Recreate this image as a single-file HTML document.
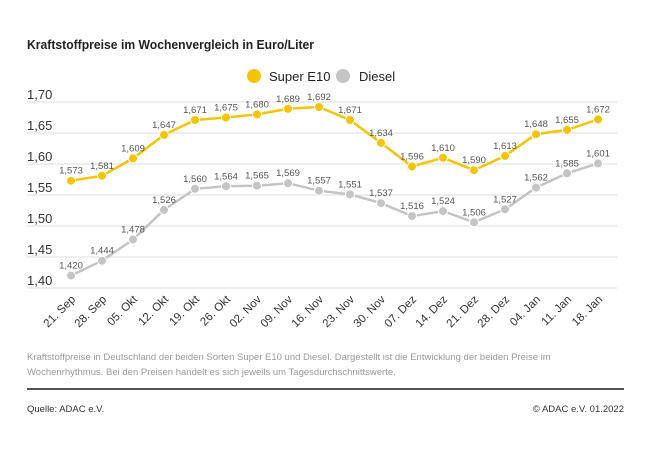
<!DOCTYPE html>
<html><head><meta charset="utf-8"><style>
body{margin:0;background:#fff;}
svg text{font-family:"Liberation Sans",sans-serif;}
</style></head><body>
<svg width="650" height="456" viewBox="0 0 650 456" xmlns="http://www.w3.org/2000/svg">
<text x="27" y="49" font-size="13" font-weight="bold" fill="#222" textLength="287" lengthAdjust="spacingAndGlyphs">Kraftstoffpreise im Wochenvergleich in Euro/Liter</text>
<circle cx="254" cy="76" r="7" fill="#f5c400"/>
<text x="269" y="81" font-size="13" fill="#222">Super E10</text>
<circle cx="343" cy="76" r="7" fill="#c4c4c4"/>
<text x="359" y="81" font-size="13" fill="#222">Diesel</text>
<g stroke="#ddd" stroke-width="1">
<line x1="27" x2="617" y1="102" y2="102"/><line x1="27" x2="617" y1="133" y2="133"/><line x1="27" x2="617" y1="164" y2="164"/><line x1="27" x2="617" y1="195" y2="195"/><line x1="27" x2="617" y1="226" y2="226"/><line x1="27" x2="617" y1="257" y2="257"/><line x1="27" x2="617" y1="288" y2="288"/>
</g>
<g font-size="13" fill="#333">
<text x="27" y="99">1,70</text><text x="27" y="130">1,65</text><text x="27" y="161">1,60</text><text x="27" y="192">1,55</text><text x="27" y="223">1,50</text><text x="27" y="254">1,45</text><text x="27" y="285">1,40</text>
</g>

<polyline fill="none" stroke="#c4c4c4" stroke-width="2.5" points="71,275.6 102,260.7 133,239.6 164,209.9 195,188.8 226,186.3 257,185.7 288,183.2 319,190.7 350,194.4 381,203.1 412,216.1 443,211.1 474,222.3 505,209.3 536,187.6 567,173.3 598,163.4"/>
<g fill="#c4c4c4" stroke="#fff" stroke-width="1">
<circle cx="71" cy="275.6" r="4.5"/><circle cx="102" cy="260.7" r="4.5"/><circle cx="133" cy="239.6" r="4.5"/><circle cx="164" cy="209.9" r="4.5"/><circle cx="195" cy="188.8" r="4.5"/><circle cx="226" cy="186.3" r="4.5"/><circle cx="257" cy="185.7" r="4.5"/><circle cx="288" cy="183.2" r="4.5"/><circle cx="319" cy="190.7" r="4.5"/><circle cx="350" cy="194.4" r="4.5"/><circle cx="381" cy="203.1" r="4.5"/><circle cx="412" cy="216.1" r="4.5"/><circle cx="443" cy="211.1" r="4.5"/><circle cx="474" cy="222.3" r="4.5"/><circle cx="505" cy="209.3" r="4.5"/><circle cx="536" cy="187.6" r="4.5"/><circle cx="567" cy="173.3" r="4.5"/><circle cx="598" cy="163.4" r="4.5"/>
</g>
<g font-size="9.5" fill="#555" text-anchor="middle">
<text x="71" y="268.6">1,420</text><text x="102" y="253.7">1,444</text><text x="133" y="232.6">1,478</text><text x="164" y="202.9">1,526</text><text x="195" y="181.8">1,560</text><text x="226" y="179.3">1,564</text><text x="257" y="178.7">1,565</text><text x="288" y="176.2">1,569</text><text x="319" y="183.7">1,557</text><text x="350" y="187.4">1,551</text><text x="381" y="196.1">1,537</text><text x="412" y="209.1">1,516</text><text x="443" y="204.1">1,524</text><text x="474" y="215.3">1,506</text><text x="505" y="202.3">1,527</text><text x="536" y="180.6">1,562</text><text x="567" y="166.3">1,585</text><text x="598" y="156.4">1,601</text>
</g>

<polyline fill="none" stroke="#f5c400" stroke-width="2.5" points="71,180.7 102,175.8 133,158.4 164,134.9 195,120.0 226,117.5 257,114.4 288,108.8 319,107.0 350,120.0 381,142.9 412,166.5 443,157.8 474,170.2 505,155.9 536,134.2 567,129.9 598,119.4"/>
<g fill="#f5c400" stroke="#fff" stroke-width="1">
<circle cx="71" cy="180.7" r="4.5"/><circle cx="102" cy="175.8" r="4.5"/><circle cx="133" cy="158.4" r="4.5"/><circle cx="164" cy="134.9" r="4.5"/><circle cx="195" cy="120.0" r="4.5"/><circle cx="226" cy="117.5" r="4.5"/><circle cx="257" cy="114.4" r="4.5"/><circle cx="288" cy="108.8" r="4.5"/><circle cx="319" cy="107.0" r="4.5"/><circle cx="350" cy="120.0" r="4.5"/><circle cx="381" cy="142.9" r="4.5"/><circle cx="412" cy="166.5" r="4.5"/><circle cx="443" cy="157.8" r="4.5"/><circle cx="474" cy="170.2" r="4.5"/><circle cx="505" cy="155.9" r="4.5"/><circle cx="536" cy="134.2" r="4.5"/><circle cx="567" cy="129.9" r="4.5"/><circle cx="598" cy="119.4" r="4.5"/>
</g>
<g font-size="9.5" fill="#555" text-anchor="middle">
<text x="71" y="173.7">1,573</text><text x="102" y="168.8">1,581</text><text x="133" y="151.4">1,609</text><text x="164" y="127.9">1,647</text><text x="195" y="113">1,671</text><text x="226" y="110.5">1,675</text><text x="257" y="107.4">1,680</text><text x="288" y="101.8">1,689</text><text x="319" y="100">1,692</text><text x="350" y="113">1,671</text><text x="381" y="135.9">1,634</text><text x="412" y="159.5">1,596</text><text x="443" y="150.8">1,610</text><text x="474" y="163.2">1,590</text><text x="505" y="148.9">1,613</text><text x="536" y="127.2">1,648</text><text x="567" y="122.9">1,655</text><text x="598" y="112.4">1,672</text>
</g>

<g font-size="11.5" fill="#333" text-anchor="end">
<text x="76" y="300" transform="rotate(-45 76 300)">21. Sep</text>
<text x="107" y="300" transform="rotate(-45 107 300)">28. Sep</text>
<text x="138" y="300" transform="rotate(-45 138 300)">05. Okt</text>
<text x="169" y="300" transform="rotate(-45 169 300)">12. Okt</text>
<text x="200" y="300" transform="rotate(-45 200 300)">19. Okt</text>
<text x="231" y="300" transform="rotate(-45 231 300)">26. Okt</text>
<text x="262" y="300" transform="rotate(-45 262 300)">02. Nov</text>
<text x="293" y="300" transform="rotate(-45 293 300)">09. Nov</text>
<text x="324" y="300" transform="rotate(-45 324 300)">16. Nov</text>
<text x="355" y="300" transform="rotate(-45 355 300)">23. Nov</text>
<text x="386" y="300" transform="rotate(-45 386 300)">30. Nov</text>
<text x="417" y="300" transform="rotate(-45 417 300)">07. Dez</text>
<text x="448" y="300" transform="rotate(-45 448 300)">14. Dez</text>
<text x="479" y="300" transform="rotate(-45 479 300)">21. Dez</text>
<text x="510" y="300" transform="rotate(-45 510 300)">28. Dez</text>
<text x="541" y="300" transform="rotate(-45 541 300)">04. Jan</text>
<text x="572" y="300" transform="rotate(-45 572 300)">11. Jan</text>
<text x="603" y="300" transform="rotate(-45 603 300)">18. Jan</text>
</g>

<text x="27" y="360" font-size="9.5" fill="#999">Kraftstoffpreise in Deutschland der beiden Sorten Super E10 und Diesel. Dargestellt ist die Entwicklung der beiden Preise im</text>
<text x="27" y="375" font-size="9.5" fill="#999">Wochenrhythmus. Bei den Preisen handelt es sich jeweils um Tagesdurchschnittswerte.</text>
<line x1="27" x2="624" y1="389" y2="389" stroke="#555" stroke-width="2"/>
<text x="27" y="412" font-size="9.5" fill="#333">Quelle: ADAC e.V.</text>
<text x="624" y="412" font-size="9.5" fill="#333" text-anchor="end">© ADAC e.V. 01.2022</text>
</svg>
</body></html>
